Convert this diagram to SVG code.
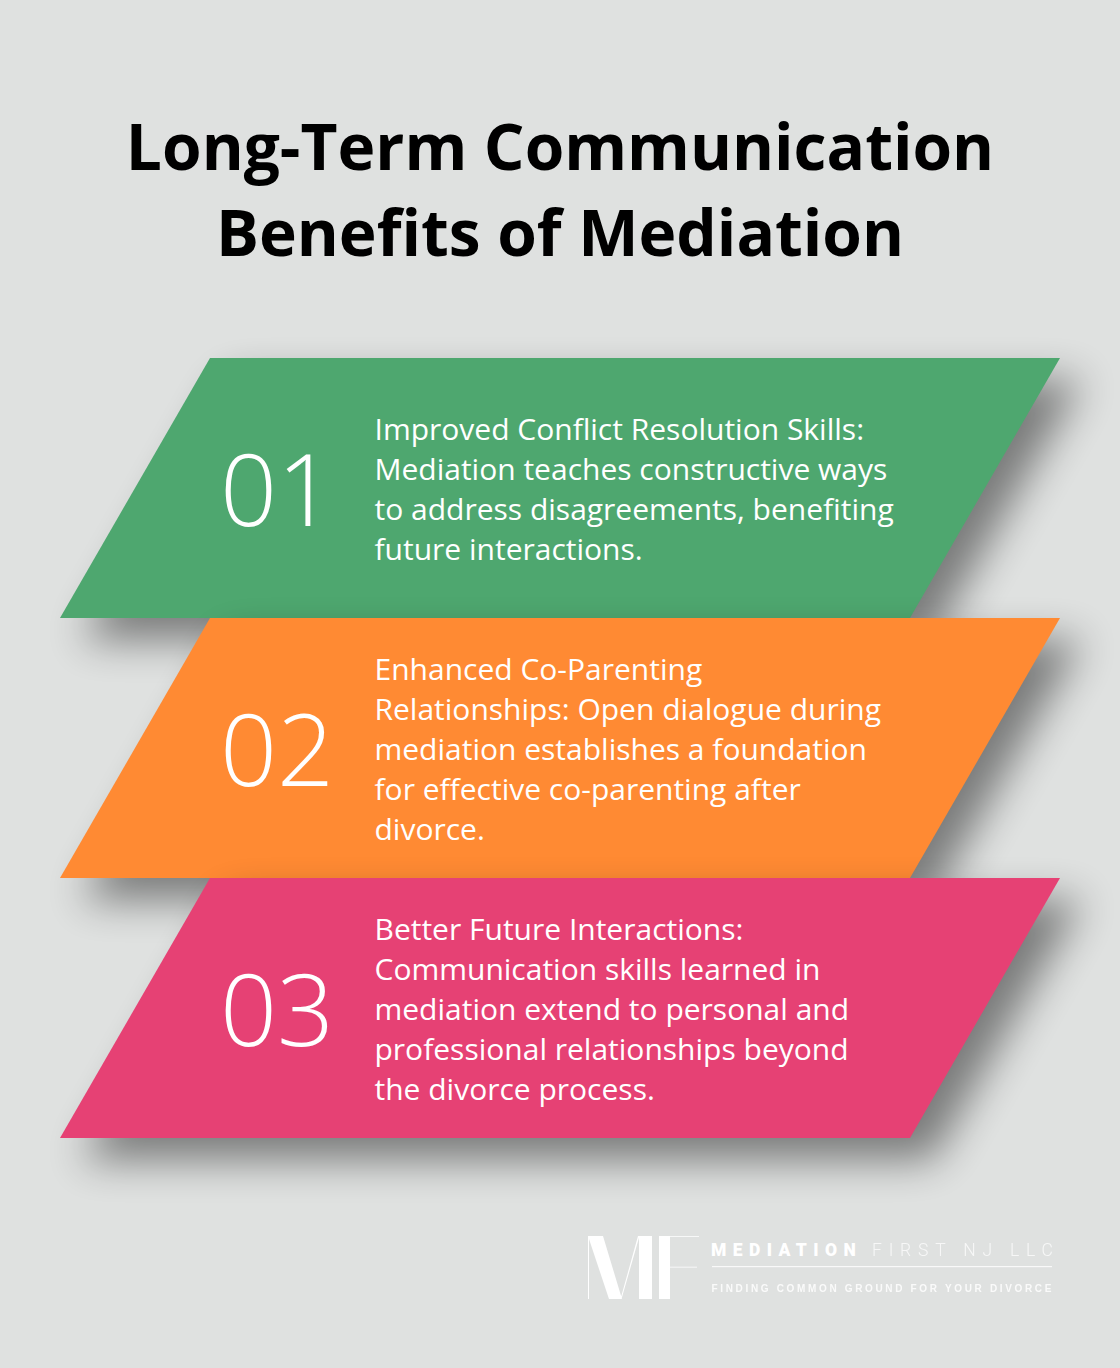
<svg xmlns="http://www.w3.org/2000/svg" width="1120" height="1368" viewBox="0 0 1120 1368">
<defs>
<filter id="sh" x="-20%" y="-50%" width="140%" height="200%"><feGaussianBlur stdDeviation="20"/></filter>
<polygon id="para" points="210,0 1060,0 910,260 60,260"/>
</defs>
<style>
.title{font:700 64px "Open Sans",sans-serif;fill:#000;text-anchor:middle}
.num{font:300 100px "Open Sans",sans-serif;fill:#fff}
.body{font:400 30px "Open Sans",sans-serif;fill:#fff}
.shadow{fill:#000;opacity:.45;filter:url(#sh)}
</style>
<rect width="1120" height="1368" fill="#dfe1e0"/>
<g id="title">
<text class="title" x="560" y="170">Long-Term Communication</text>
<text class="title" x="560" y="256">Benefits of Mediation</text>
</g>
<g id="connectors"></g>
<g id="node-1">
<use href="#para" class="shadow" x="22" y="380"/>
<use href="#para" x="0" y="358" fill="#4ea76f"/>
<text class="num" x="220" y="526">01</text>
<text class="body" x="374.500" y="440">Improved Conflict Resolution Skills:</text>
<text class="body" x="374.500" y="480">Mediation teaches constructive ways</text>
<text class="body" x="374.500" y="520">to address disagreements, benefiting</text>
<text class="body" x="374.500" y="560">future interactions.</text>
</g>
<g id="node-2">
<use href="#para" class="shadow" x="22" y="640"/>
<use href="#para" x="0" y="618" fill="#ff8a33"/>
<text class="num" x="220" y="786">02</text>
<text class="body" x="374.500" y="680">Enhanced Co-Parenting</text>
<text class="body" x="374.500" y="720">Relationships: Open dialogue during</text>
<text class="body" x="374.500" y="760">mediation establishes a foundation</text>
<text class="body" x="374.500" y="800">for effective co-parenting after</text>
<text class="body" x="374.500" y="840">divorce.</text>
</g>
<g id="node-3">
<use href="#para" class="shadow" x="22" y="900"/>
<use href="#para" x="0" y="878" fill="#e64174"/>
<text class="num" x="220" y="1046">03</text>
<text class="body" x="374.500" y="940">Better Future Interactions:</text>
<text class="body" x="374.500" y="980">Communication skills learned in</text>
<text class="body" x="374.500" y="1020">mediation extend to personal and</text>
<text class="body" x="374.500" y="1060">professional relationships beyond</text>
<text class="body" x="374.500" y="1100">the divorce process.</text>
</g>
<g id="logo" fill="#fff">
<path d="M588 1236h15l19 63h-13l-20-60v60h-1zM638 1236h1.500l-18 63h-1zM639 1236h13v63h-13zM659 1236h40v.8h-29v30h27v.8h-27v31.400h-11z"/>
<text x="711" y="1256" font-family="Roboto,sans-serif" font-weight="900" font-size="17.500" letter-spacing="6.400">MEDIATION</text>
<text x="872" y="1256" font-family="Roboto,sans-serif" font-weight="300" font-size="17.500" letter-spacing="6.800" opacity=".75">FIRST NJ LLC</text>
<rect x="712" y="1266" width="340" height="1.200" opacity=".8"/>
<text x="711.500" y="1292" font-family="'Liberation Sans',sans-serif" font-weight="700" font-size="10" letter-spacing="2.660" opacity=".85">FINDING COMMON GROUND FOR YOUR DIVORCE</text>
</g>
</svg>
